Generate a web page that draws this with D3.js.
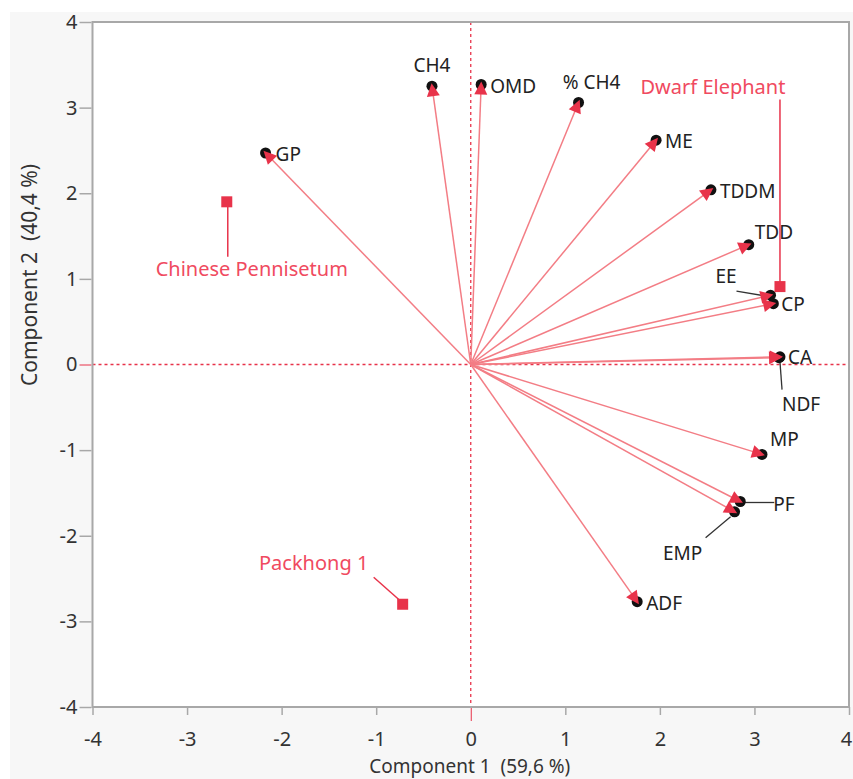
<!DOCTYPE html>
<html>
<head>
<meta charset="utf-8">
<script src="https://cdn.jsdelivr.net/npm/d3@7"></script>
<style>
  html, body { margin: 0; padding: 0; background: #ffffff; }
  svg { display: block; }
  text { font-family: "Noto Sans", "Open Sans", sans-serif; white-space: pre; }
</style>
</head>
<body>
<svg id="chart" width="853" height="779"></svg>
<script>
// Loading vectors (variables) on the first two principal components
const variables = ["GP", "CH4", "OMD", "% CH4", "ME", "TDDM", "TDD", "EE", "CP", "CA", "NDF", "MP", "PF", "EMP", "ADF"];
const pc1Load = [-2.17, -0.41, 0.11, 1.14, 1.96, 2.54, 2.94, 3.17, 3.20, 3.27, 3.26, 3.08, 2.85, 2.79, 1.76];
const pc2Load = [2.47, 3.25, 3.27, 3.06, 2.62, 2.04, 1.40, 0.81, 0.71, 0.09, 0.08, -1.05, -1.60, -1.72, -2.77];

// Observation scores
const samples = ["Dwarf Elephant", "Chinese Pennisetum", "Packhong 1"];
const pc1Score = [3.27, -2.58, -0.72];
const pc2Score = [0.91, 1.90, -2.80];

const xTicks = [-4, -3, -2, -1, 0, 1, 2, 3, 4];
const yTicks = [-4, -3, -2, -1, 0, 1, 2, 3, 4];
const xTitle = "Component 1  (59,6 %)";
const yTitle = "Component 2  (40,4 %)";

// Label placement (pixel offsets from the marker); lead = leader line [x1,y1,x2,y2] offsets
const varLabelLayout = {
  "GP":    { dx: 10, dy: 1, anchor: "start" },
  "CH4":   { dx: 0, dy: -21, anchor: "middle" },
  "OMD":   { dx: 9, dy: 1, anchor: "start" },
  "% CH4": { dx: 13, dy: -20, anchor: "middle" },
  "ME":    { dx: 9, dy: 1, anchor: "start" },
  "TDDM":  { dx: 9, dy: 1, anchor: "start" },
  "TDD":   { dx: 6, dy: -13, anchor: "start" },
  "EE":    { dx: -55, dy: -19, anchor: "start", lead: [-34, -4, -4, 1] },
  "CP":    { dx: 8, dy: 0, anchor: "start" },
  "CA":    { dx: 8, dy: 0, anchor: "start" },
  "NDF":   { dx: 22, dy: 46, anchor: "middle", lead: [1, 5, 3, 32] },
  "MP":    { dx: 8, dy: -15, anchor: "start" },
  "PF":    { dx: 33, dy: 2, anchor: "start", lead: [4, 1, 34, 1] },
  "EMP":   { dx: -52, dy: 41, anchor: "middle", lead: [-29, 26, -4, 5] },
  "ADF":   { dx: 9, dy: 1, anchor: "start" }
};
const sampleLabelLayout = {
  "Dwarf Elephant":     { dx: -67, dy: -200, anchor: "middle", lead: [0, -3, 0, -187] },
  "Chinese Pennisetum": { dx: 25, dy: 67, anchor: "middle", lead: [1, 5, 1, 55] },
  "Packhong 1":         { dx: -89, dy: -42, anchor: "middle", lead: [-29, -27, -3, -4] }
};

const W = 853, H = 779;
const plot = { left: 92.5, right: 849, top: 22, bottom: 707 };
const svg = d3.select("#chart");

const x = d3.scaleLinear().domain([-4, 4]).range([plot.left, plot.right]);
const y = d3.scaleLinear().domain([-4, 4]).range([plot.bottom, plot.top]);

const frameColor = "#a8a8a8";
const refColor = "#e8334a";
const lineColor = "#f37d85";
const markColor = "#e8334a";
const tickFmt = d => String(d);   // plain hyphen-minus

// Panel background
svg.append("rect").attr("x", 10).attr("y", 12).attr("width", W - 10).attr("height", H - 12)
  .attr("fill", "#f7f7f7");
svg.append("rect").attr("x", plot.left).attr("y", plot.top)
  .attr("width", plot.right - plot.left).attr("height", plot.bottom - plot.top)
  .attr("fill", "#ffffff");

// Axes
const xAxis = svg.append("g").attr("transform", `translate(0,${plot.bottom})`)
  .call(d3.axisBottom(x).tickValues(xTicks).tickFormat(tickFmt).tickSize(14).tickSizeOuter(0));
const yAxis = svg.append("g").attr("transform", `translate(${plot.left},0)`)
  .call(d3.axisLeft(y).tickValues(yTicks).tickFormat(tickFmt).tickSize(13).tickSizeOuter(0));
[xAxis, yAxis].forEach(g => {
  g.select(".domain").remove();
  g.selectAll(".tick line").attr("stroke", frameColor).attr("stroke-width", 1.5);
  g.selectAll(".tick text").attr("fill", "#333").style("font-size", "20px")
    .style("font-family", "'Noto Sans', sans-serif");
});
xAxis.selectAll(".tick line").attr("y2", 8);
xAxis.selectAll(".tick text").attr("y", 25);
// keep the last label inside the panel edge
xAxis.selectAll(".tick").filter(d => d === 4).select("text").attr("x", -3);
yAxis.selectAll(".tick line").attr("x2", -13).attr("x1", -1);
yAxis.selectAll(".tick text").attr("x", -15);
xAxis.selectAll(".tick").filter(d => d === 0).select("line").attr("stroke", refColor).attr("y2", 14).attr("stroke-width", 1);
yAxis.selectAll(".tick").filter(d => d === 0).select("line").attr("stroke", refColor).attr("stroke-width", 1);

// Zero reference lines
svg.append("line").attr("x1", x(0)).attr("x2", x(0)).attr("y1", plot.top).attr("y2", plot.bottom)
  .attr("stroke", refColor).attr("stroke-width", 1.3).attr("stroke-dasharray", "3,3");
svg.append("line").attr("x1", plot.left).attr("x2", plot.right).attr("y1", y(0)).attr("y2", y(0))
  .attr("stroke", refColor).attr("stroke-width", 1.3).attr("stroke-dasharray", "3,3");

// Frame
svg.append("rect").attr("x", plot.left).attr("y", plot.top)
  .attr("width", plot.right - plot.left).attr("height", plot.bottom - plot.top)
  .attr("fill", "none").attr("stroke", frameColor).attr("stroke-width", 2);

// Axis titles
svg.append("text").attr("x", (plot.left + plot.right) / 2 - 1).attr("y", 773)
  .attr("text-anchor", "middle").attr("fill", "#333").style("font-size", "19px").text(xTitle);
svg.append("text").attr("transform", "translate(37,275) rotate(-90)")
  .attr("text-anchor", "middle").attr("fill", "#333").style("font-size", "21px").text(yTitle);

// Loading vectors
const vecs = variables.map((name, i) => ({ name, vx: pc1Load[i], vy: pc2Load[i] }));
const g = svg.append("g");

g.selectAll("line.vec").data(vecs).join("line").attr("class", "vec")
  .attr("x1", x(0)).attr("y1", y(0))
  .attr("x2", d => x(d.vx)).attr("y2", d => y(d.vy))
  .attr("stroke", lineColor).attr("stroke-width", 1.5);

// Leader lines for variable labels
vecs.forEach(d => {
  const L = varLabelLayout[d.name];
  if (L.lead) {
    g.append("line")
      .attr("x1", x(d.vx) + L.lead[0]).attr("y1", y(d.vy) + L.lead[1])
      .attr("x2", x(d.vx) + L.lead[2]).attr("y2", y(d.vy) + L.lead[3])
      .attr("stroke", "#333").attr("stroke-width", 1.3);
  }
});

g.selectAll("circle.pt").data(vecs).join("circle").attr("class", "pt")
  .attr("cx", d => x(d.vx)).attr("cy", d => y(d.vy)).attr("r", 5.5)
  .attr("fill", "#111");

// Arrowheads
g.selectAll("path.head").data(vecs).join("path").attr("class", "head")
  .attr("d", "M3,0 L-10,-6.5 L-10,6.5 Z")
  .attr("transform", d => {
    const px = x(d.vx), py = y(d.vy);
    const ang = Math.atan2(py - y(0), px - x(0)) * 180 / Math.PI;
    return `translate(${px},${py}) rotate(${ang})`;
  })
  .attr("fill", markColor);

// Variable labels
g.selectAll("text.vlab").data(vecs).join("text").attr("class", "vlab")
  .attr("x", d => x(d.vx) + varLabelLayout[d.name].dx)
  .attr("y", d => y(d.vy) + varLabelLayout[d.name].dy)
  .attr("text-anchor", d => varLabelLayout[d.name].anchor)
  .attr("dominant-baseline", "central")
  .attr("fill", "#222").style("font-size", "19px")
  .text(d => d.name);

// Observation scores
const obs = samples.map((name, i) => ({ name, sx: pc1Score[i], sy: pc2Score[i] }));
obs.forEach(d => {
  const L = sampleLabelLayout[d.name];
  g.append("line")
    .attr("x1", x(d.sx) + L.lead[0]).attr("y1", y(d.sy) + L.lead[1])
    .attr("x2", x(d.sx) + L.lead[2]).attr("y2", y(d.sy) + L.lead[3])
    .attr("stroke", markColor).attr("stroke-width", 1.5);
});
g.selectAll("rect.obs").data(obs).join("rect").attr("class", "obs")
  .attr("x", d => x(d.sx) - 5.5).attr("y", d => y(d.sy) - 5.5)
  .attr("width", 11).attr("height", 11).attr("fill", markColor);
g.selectAll("text.olab").data(obs).join("text").attr("class", "olab")
  .attr("x", d => x(d.sx) + sampleLabelLayout[d.name].dx)
  .attr("y", d => y(d.sy) + sampleLabelLayout[d.name].dy)
  .attr("text-anchor", d => sampleLabelLayout[d.name].anchor)
  .attr("dominant-baseline", "central")
  .attr("fill", "#f04a60").style("font-size", "20px")
  .text(d => d.name);
</script>
</body>
</html>
